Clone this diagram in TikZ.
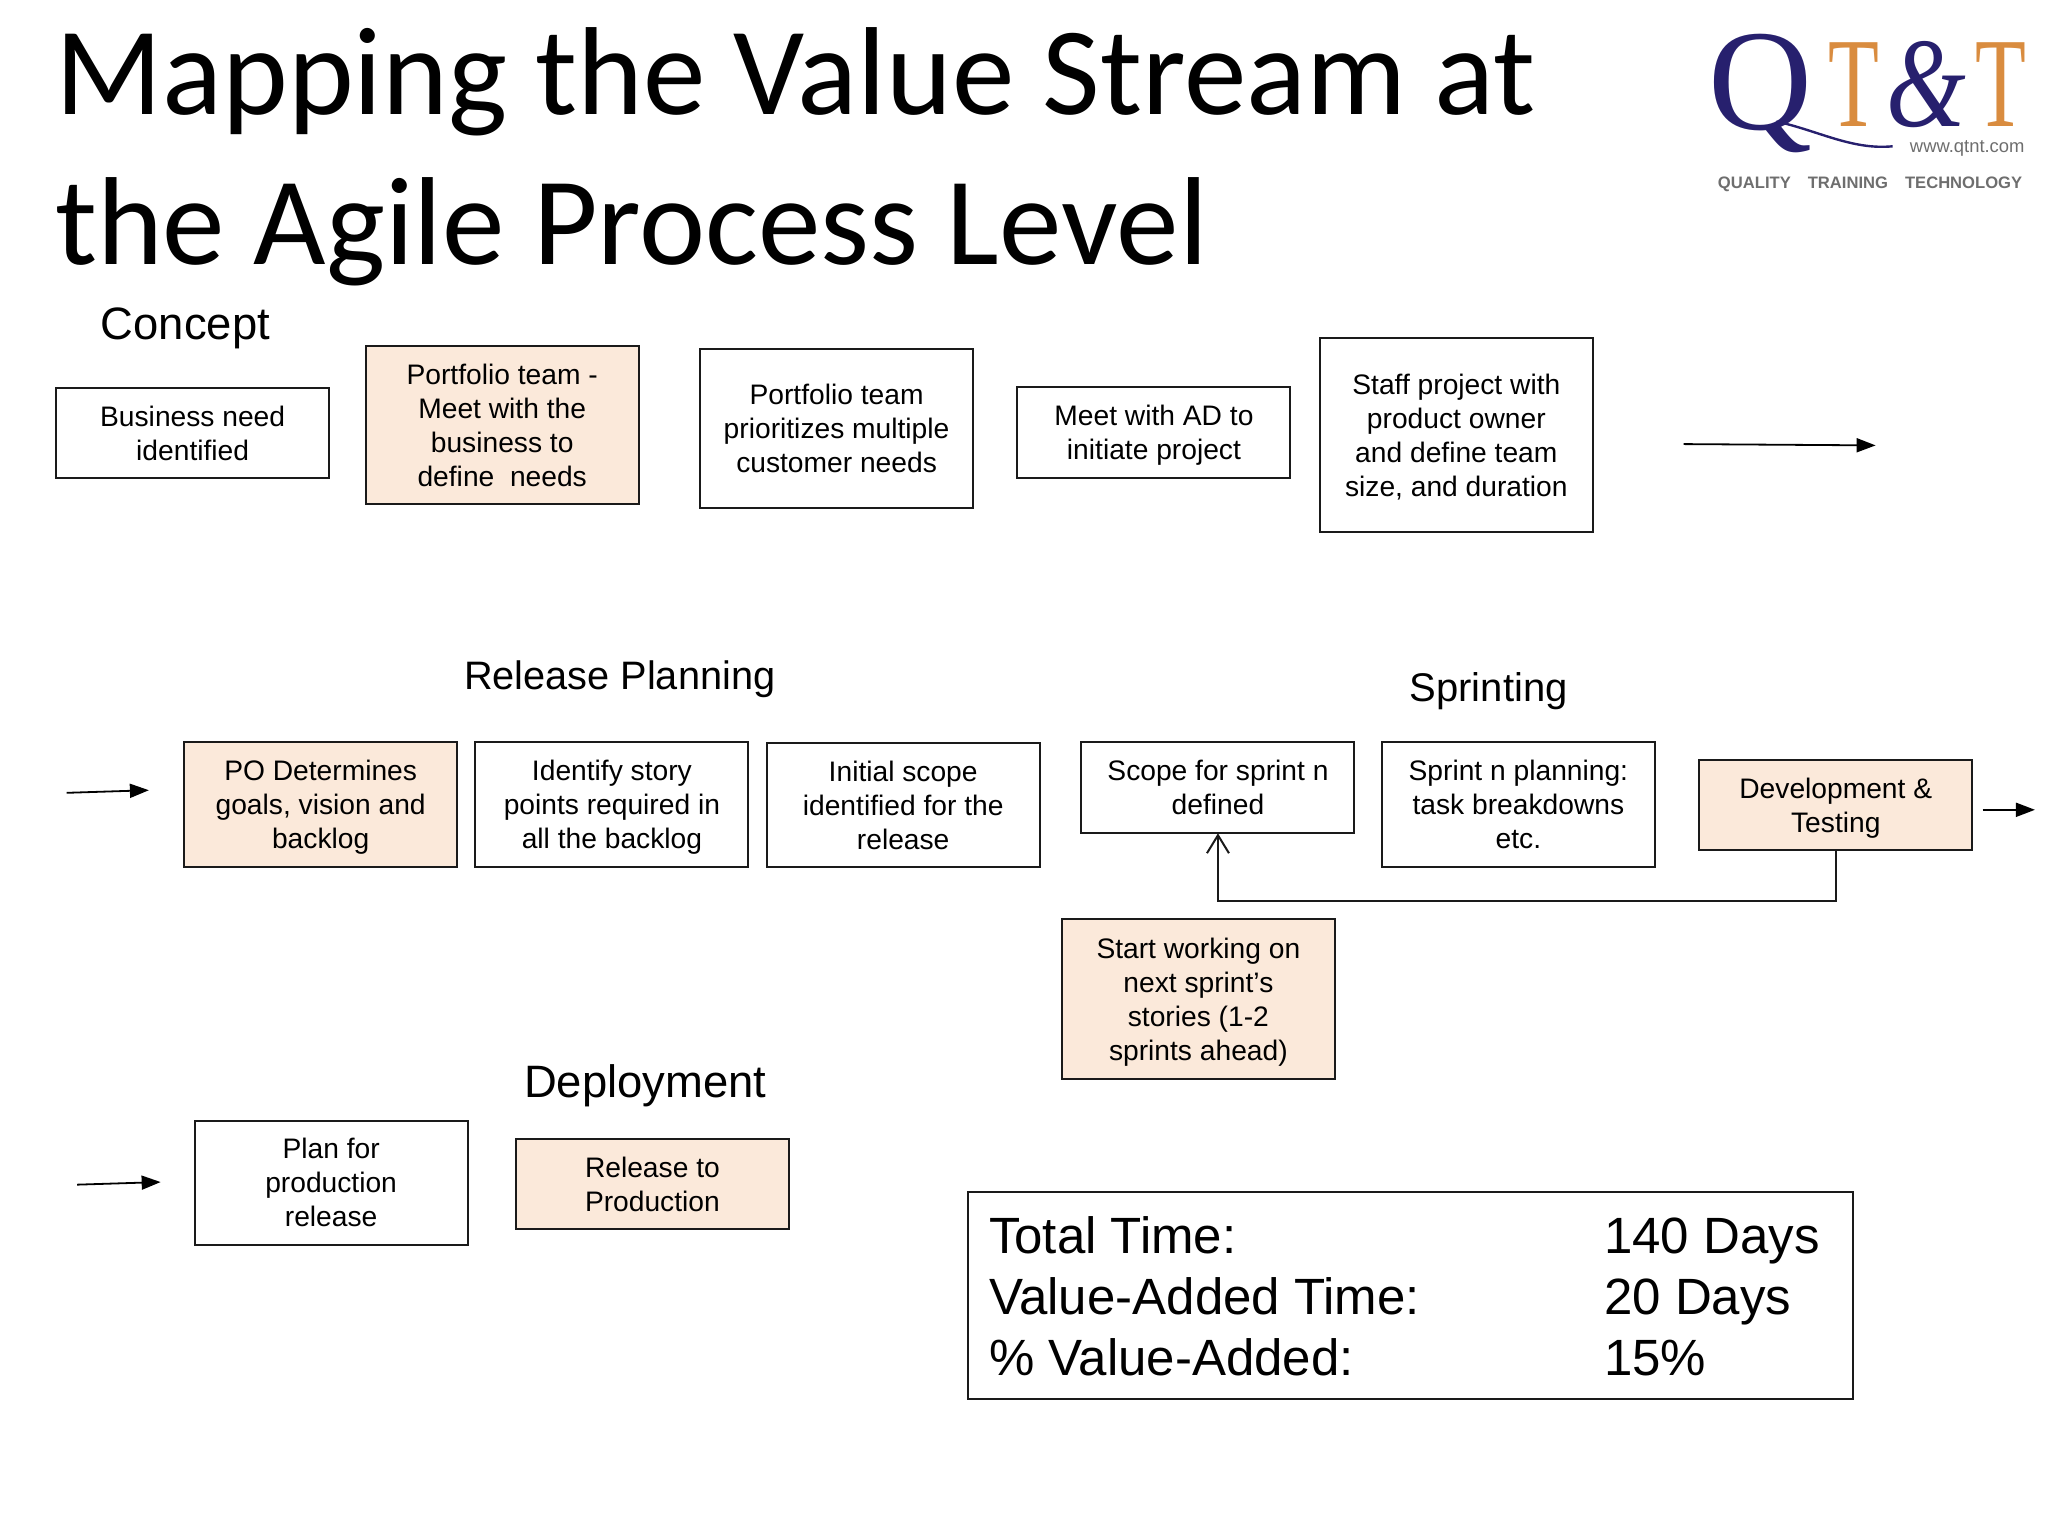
\documentclass[tikz,border=0pt]{standalone}
\usepackage{fontspec}
\setmainfont{Liberation Sans}
\newfontfamily\titlefont{Carlito}
\newfontfamily\logofont{Liberation Serif}
\usepackage{xcolor}
\usetikzlibrary{arrows.meta,positioning,calc}
\definecolor{boxpeach}{HTML}{FBE9DA}
\definecolor{boxline}{HTML}{1A1A1A}
\definecolor{logonavy}{HTML}{27206E}
\definecolor{logoorange}{HTML}{D98C3F}
\definecolor{logogray}{HTML}{6E6E6E}

\begin{document}
\begin{tikzpicture}[x=0.65306pt, y=-0.65306pt,
    flowbox/.style={draw=boxline, line width=1pt, inner sep=0pt, outer sep=0pt, minimum width=136.5pt, align=center, text depth=0pt, font=\fontsize{14.1}{17}\selectfont},
    peachbox/.style={flowbox, fill=boxpeach},
    heading/.style={anchor=base west, inner sep=0pt, font=\fontsize{#1}{24}\selectfont},
    flowarrow/.style={-{Triangle[length=9.5pt,width=7pt]}, line width=0.9pt, draw=black},
    logotext/.style={anchor=base west, inner sep=0pt}]
    \useasboundingbox (0,0) rectangle (1568,1176);

    \node [anchor=north west, inner sep=0pt, align=left, font=\titlefont\fontsize{62.6}{75}\selectfont] (title) at (42,21) {Mapping the Value Stream at\\the Agile Process Level};

    \node [logotext, text=logonavy, font=\logofont\fontsize{72}{72}\selectfont] (logoq) at (1308,99) {Q};
    \node [logotext, text=logoorange, xscale=0.65, font=\logofont\fontsize{64}{64}\selectfont] (logot) at (1400,97) {T};
    \node [logotext, text=logonavy, xscale=0.8, font=\logofont\itshape\fontsize{64}{64}\selectfont] (logoamp) at (1444,97) {\&};
    \node [logotext, text=logoorange, xscale=0.65, font=\logofont\fontsize{64}{64}\selectfont] (logott) at (1512,97) {T};
    \node [logotext, text=logogray, font=\fontsize{9.2}{10}\selectfont] (logoweb) at (1462,117) {www.qtnt.com};
    \node [logotext, text=logogray, font=\bfseries\fontsize{8.3}{10}\selectfont] (logotag) at (1315,144) {QUALITY\hspace{8.5pt}TRAINING\hspace{8.5pt}TECHNOLOGY};
    \draw [logonavy, line width=1.2pt] (1360,93) .. controls (1392,100) and (1418,115) .. (1449,112);

    \node [heading=22.7] (concept) at (77,260) {Concept};
    \node [heading=19.85] (release) at (355,528) {Release Planning};
    \node [heading=20] (sprinting) at (1079,537) {Sprinting};
    \node [heading=22.7] (deployment) at (401,840) {Deployment};

    \node [flowbox, minimum height=45pt] (business) at (147.5,331.5) {Business need\\identified};
    \node [peachbox, minimum height=79pt] (portfolio) at (384.5,325.5) {Portfolio team -\\Meet with the\\business to\\define\ \ needs};
    \node [flowbox, minimum height=79.7pt] (prioritize) at (640.5,328) {Portfolio team\\prioritizes multiple\\customer needs};
    \node [flowbox, minimum height=45.7pt] (meetad) at (883.5,331) {Meet with AD to\\initiate project};
    \node [flowbox, minimum height=96.6pt] (staff) at (1115,333) {Staff project with\\product owner\\and define team\\size, and duration};

    \node [peachbox, minimum height=62.7pt] (goals) at (245.5,616) {PO Determines\\goals, vision and\\backlog};
    \node [flowbox, minimum height=62.7pt] (points) at (468.5,616) {Identify story\\points required in\\all the backlog};
    \node [flowbox, minimum height=62pt] (scope) at (691.5,616.5) {Initial scope\\identified for the\\release};
    \node [flowbox, minimum height=45.7pt] (sprintscope) at (932.5,603) {Scope for sprint n\\defined};
    \node [flowbox, minimum height=62.7pt] (planning) at (1162.5,616) {Sprint n planning:\\task breakdowns\\etc.};
    \node [peachbox, minimum height=45pt] (develop) at (1405.5,616.5) {Development \&\\Testing};
    \node [peachbox, minimum height=79.7pt] (nextsprint) at (917.5,765) {Start working on\\next sprint’s\\stories (1-2\\sprints ahead)};

    \node [flowbox, minimum height=62pt] (plan) at (253.5,905.5) {Plan for\\production\\release};
    \node [peachbox, minimum height=45pt] (prod) at (499.5,906.5) {Release to\\Production};

    \node [draw=boxline, line width=1pt, inner xsep=10.4pt, inner ysep=0pt, minimum width=442.8pt, minimum height=103.2pt, font=\fontsize{25.5}{30.7}\selectfont] (summary) at (1080,992) {\begin{tabular}{@{}p{307.6pt}@{}p{114pt}@{}}
        \rule{0pt}{28.1pt}Total Time: & 140 Days\\
        Value-Added Time: & 20 Days\\
        \% Value-Added: & 15\%
    \end{tabular}};

    \coordinate (a1) at (1289,340);
    \coordinate (a2) at (1436,341);
    \coordinate (b1) at (51,607);
    \coordinate (b2) at (114,605);
    \coordinate (c1) at (1518,620);
    \coordinate (c2) at (1558,620);
    \coordinate (d1) at (59,907);
    \coordinate (d2) at (123,905);

    \draw [flowarrow] (a1) -- (a2);
    \draw [flowarrow] (b1) -- (b2);
    \draw [flowarrow] (c1) -- (c2);
    \draw [flowarrow] (d1) -- (d2);
    \draw [-{Straight Barb[length=9pt,width=11pt]}, line width=1pt, draw=boxline] (develop.south) -- ++(0,39) -| (sprintscope.south);
\end{tikzpicture}
\end{document}
